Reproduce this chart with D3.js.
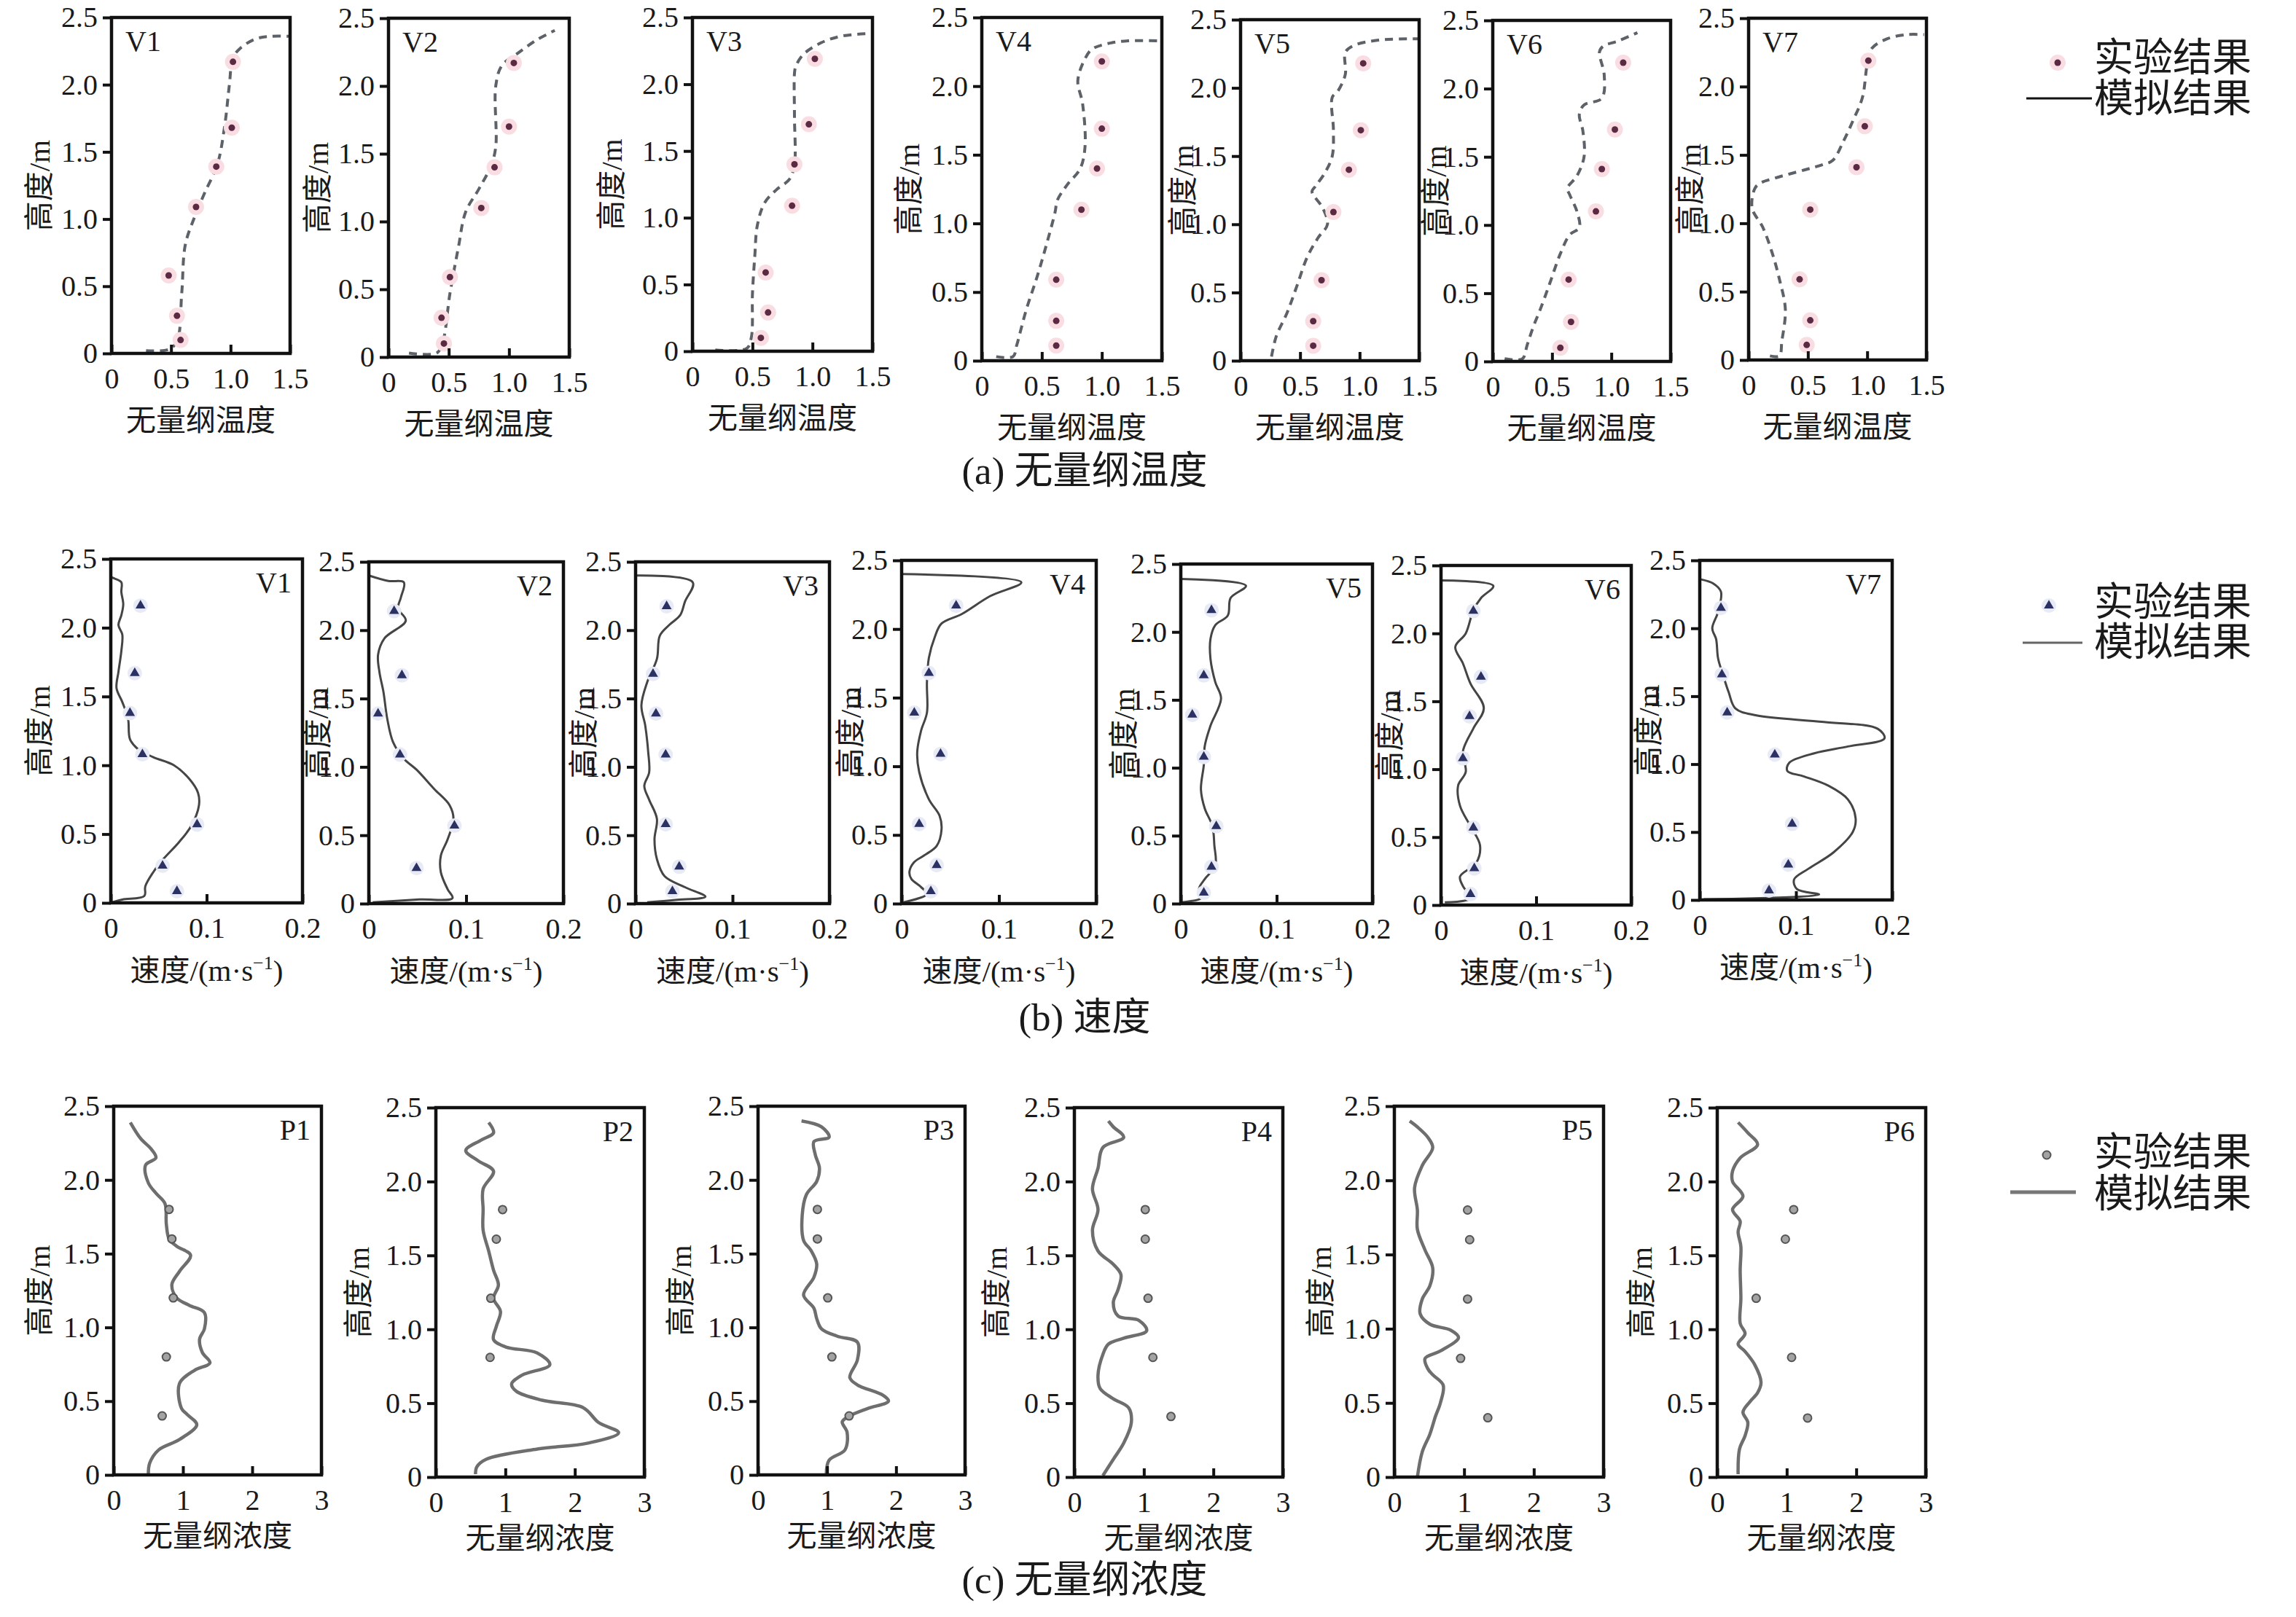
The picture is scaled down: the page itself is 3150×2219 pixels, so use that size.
<!DOCTYPE html>
<html>
<head>
<meta charset="utf-8">
<script src="https://cdn.jsdelivr.net/npm/d3@7"></script>
<style>
  body { margin: 0; background: #fff; }
  text { font-family: "Liberation Serif", "Noto Sans CJK SC", serif; fill: #1a1a1a; }
</style>
</head>
<body>
<div class="chart"></div>
<script>
// ---- data ----
var heightTicks = [0, 0.5, 1.0, 1.5, 2.0, 2.5];

// (a) dimensionless temperature
var tempNames = ["V1", "V2", "V3", "V4", "V5", "V6", "V7"];
var tempTicks = [0, 0.5, 1.0, 1.5];
var tempSim = [
  [[0.29,0.02],[0.48,0.03],[0.55,0.09],[0.59,0.45],[0.62,0.81],[0.70,1.02],[0.78,1.19],[0.89,1.41],[0.95,1.69],[0.99,2.0],[1.02,2.2],[1.08,2.27],[1.21,2.34],[1.34,2.36],[1.49,2.36]],
  [[0.17,0.03],[0.40,0.03],[0.45,0.11],[0.51,0.47],[0.58,0.81],[0.64,1.07],[0.75,1.24],[0.85,1.41],[0.89,1.55],[0.89,2.0],[0.94,2.15],[1.07,2.24],[1.23,2.34],[1.38,2.41]],
  [[0.19,0.01],[0.45,0.02],[0.49,0.10],[0.50,0.43],[0.52,0.72],[0.54,0.94],[0.60,1.11],[0.70,1.21],[0.81,1.29],[0.85,1.40],[0.85,1.76],[0.85,2.08],[0.86,2.13],[0.92,2.22],[1.07,2.31],[1.24,2.36],[1.47,2.38]],
  [[0.12,0.03],[0.26,0.03],[0.29,0.11],[0.37,0.37],[0.46,0.61],[0.54,0.85],[0.61,1.08],[0.63,1.17],[0.71,1.28],[0.82,1.40],[0.86,1.56],[0.84,1.87],[0.80,2.04],[0.86,2.20],[0.92,2.27],[1.05,2.31],[1.22,2.33],[1.48,2.33]],
  [[0.26,0.03],[0.30,0.18],[0.39,0.35],[0.47,0.54],[0.56,0.76],[0.65,0.90],[0.73,1.0],[0.69,1.12],[0.60,1.24],[0.63,1.28],[0.71,1.38],[0.77,1.50],[0.78,1.69],[0.77,1.93],[0.82,1.98],[0.88,2.10],[0.88,2.26],[0.95,2.31],[1.16,2.35],[1.49,2.36]],
  [[0.10,0.02],[0.25,0.02],[0.29,0.12],[0.34,0.25],[0.40,0.38],[0.48,0.57],[0.57,0.79],[0.65,0.93],[0.73,0.98],[0.71,1.10],[0.65,1.22],[0.63,1.27],[0.71,1.36],[0.77,1.50],[0.76,1.69],[0.73,1.81],[0.77,1.88],[0.92,1.93],[0.94,2.10],[0.90,2.27],[0.93,2.31],[1.06,2.35],[1.22,2.41]],
  [[0.18,0.03],[0.26,0.03],[0.28,0.135],[0.31,0.37],[0.26,0.59],[0.20,0.78],[0.12,0.97],[0.03,1.11],[0.05,1.25],[0.09,1.29],[0.22,1.33],[0.47,1.39],[0.63,1.43],[0.71,1.46],[0.80,1.60],[0.88,1.75],[0.96,1.92],[1.00,2.16],[1.04,2.28],[1.17,2.35],[1.33,2.38],[1.48,2.38]]
];
var tempExp = [
  [[1.02,2.17],[1.01,1.68],[0.88,1.39],[0.71,1.09],[0.48,0.58],[0.55,0.28],[0.58,0.10]],
  [[1.04,2.17],[1.00,1.70],[0.88,1.40],[0.77,1.10],[0.51,0.59],[0.44,0.29],[0.46,0.10]],
  [[1.02,2.19],[0.97,1.70],[0.85,1.40],[0.83,1.09],[0.61,0.59],[0.63,0.29],[0.57,0.10]],
  [[1.00,2.18],[1.00,1.69],[0.96,1.40],[0.83,1.10],[0.62,0.59],[0.62,0.29],[0.62,0.11]],
  [[1.03,2.18],[1.01,1.69],[0.91,1.40],[0.78,1.09],[0.68,0.59],[0.61,0.29],[0.61,0.11]],
  [[1.10,2.19],[1.03,1.70],[0.92,1.41],[0.87,1.10],[0.64,0.60],[0.66,0.29],[0.57,0.10]],
  [[1.01,2.19],[0.98,1.71],[0.91,1.41],[0.52,1.10],[0.43,0.59],[0.52,0.29],[0.49,0.11]]
];

// (b) velocity
var velNames = ["V1", "V2", "V3", "V4", "V5", "V6", "V7"];
var velTicks = [0, 0.1, 0.2];
var velSim = [
  [[0,0],[0.012,0.024],[0.035,0.05],[0.036,0.12],[0.044,0.22],[0.055,0.32],[0.071,0.44],[0.084,0.56],[0.092,0.71],[0.091,0.80],[0.082,0.90],[0.066,1.0],[0.044,1.06],[0.028,1.12],[0.020,1.19],[0.018,1.34],[0.012,1.46],[0.006,1.56],[0.008,1.68],[0.011,1.83],[0.012,1.95],[0.008,2.02],[0.011,2.09],[0.013,2.17],[0.011,2.26],[0.011,2.33],[0.003,2.36],[0,2.37]],
  [[0.004,0.01],[0.052,0.03],[0.086,0.04],[0.081,0.105],[0.074,0.23],[0.074,0.35],[0.081,0.47],[0.087,0.62],[0.083,0.72],[0.067,0.84],[0.049,0.98],[0.036,1.06],[0.025,1.18],[0.019,1.35],[0.015,1.55],[0.011,1.69],[0.0095,1.82],[0.016,1.94],[0.038,2.07],[0.030,2.16],[0.033,2.24],[0.036,2.35],[0.020,2.36],[0,2.40]],
  [[0.012,0.01],[0.041,0.027],[0.072,0.05],[0.051,0.12],[0.030,0.20],[0.022,0.325],[0.0195,0.47],[0.022,0.62],[0.014,0.76],[0.009,0.86],[0.014,0.96],[0.013,1.11],[0.010,1.30],[0.006,1.45],[0.012,1.62],[0.022,1.79],[0.025,1.96],[0.035,2.04],[0.046,2.11],[0.051,2.21],[0.059,2.35],[0.001,2.40]],
  [[0.002,0.01],[0.026,0.07],[0.020,0.12],[0.010,0.18],[0.008,0.23],[0.0126,0.30],[0.023,0.35],[0.036,0.42],[0.041,0.54],[0.039,0.64],[0.028,0.76],[0.018,0.96],[0.016,1.10],[0.020,1.26],[0.026,1.39],[0.026,1.61],[0.028,1.79],[0.034,1.94],[0.041,2.04],[0.062,2.11],[0.091,2.24],[0.123,2.34],[0,2.40]],
  [[0.001,0.01],[0.022,0.045],[0.019,0.11],[0.025,0.18],[0.036,0.28],[0.035,0.43],[0.033,0.57],[0.025,0.70],[0.021,0.84],[0.024,1.02],[0.025,1.16],[0.031,1.31],[0.042,1.51],[0.036,1.63],[0.031,1.80],[0.031,1.95],[0.036,2.05],[0.049,2.12],[0.052,2.25],[0.068,2.34],[0.001,2.39]],
  [[0.004,0.02],[0.031,0.05],[0.023,0.14],[0.020,0.21],[0.037,0.31],[0.041,0.44],[0.031,0.58],[0.020,0.73],[0.018,0.88],[0.026,0.98],[0.023,1.13],[0.034,1.30],[0.045,1.45],[0.031,1.63],[0.023,1.78],[0.015,1.90],[0.026,2.00],[0.034,2.17],[0.042,2.26],[0.055,2.35],[0,2.39]],
  [[0.004,0.005],[0.124,0.04],[0.101,0.08],[0.098,0.15],[0.113,0.23],[0.139,0.35],[0.159,0.50],[0.162,0.60],[0.154,0.74],[0.134,0.84],[0.108,0.91],[0.091,0.95],[0.093,1.01],[0.119,1.08],[0.154,1.13],[0.192,1.19],[0.185,1.26],[0.129,1.31],[0.058,1.36],[0.037,1.41],[0.030,1.53],[0.024,1.66],[0.019,1.78],[0.017,1.92],[0.013,2.0],[0.019,2.12],[0.022,2.27],[0.014,2.33],[0.0015,2.36]]
];
var velExp = [
  [[0.031,2.16],[0.025,1.67],[0.020,1.38],[0.033,1.08],[0.090,0.57],[0.054,0.27],[0.069,0.085]],
  [[0.026,2.14],[0.034,1.67],[0.0095,1.39],[0.032,1.09],[0.088,0.57],[0.049,0.26]],
  [[0.032,2.175],[0.018,1.68],[0.021,1.39],[0.031,1.09],[0.031,0.58],[0.045,0.27],[0.038,0.09]],
  [[0.056,2.17],[0.028,1.68],[0.013,1.39],[0.040,1.09],[0.018,0.58],[0.036,0.28],[0.030,0.09]],
  [[0.032,2.16],[0.024,1.68],[0.012,1.39],[0.024,1.08],[0.037,0.57],[0.032,0.27],[0.024,0.08]],
  [[0.034,2.165],[0.042,1.68],[0.030,1.39],[0.023,1.08],[0.034,0.57],[0.035,0.27],[0.031,0.08]],
  [[0.022,2.15],[0.023,1.66],[0.0285,1.38],[0.078,1.07],[0.096,0.56],[0.092,0.26],[0.072,0.07]]
];

// (c) dimensionless concentration
var concNames = ["P1", "P2", "P3", "P4", "P5", "P6"];
var concTicks = [0, 1, 2, 3];
var concSim = [
  [[0.50,0.0],[0.52,0.08],[0.65,0.17],[0.95,0.24],[1.20,0.34],[1.06,0.41],[0.98,0.45],[0.95,0.62],[1.17,0.71],[1.39,0.76],[1.28,0.83],[1.24,0.92],[1.31,0.99],[1.31,1.10],[1.09,1.15],[0.91,1.20],[0.84,1.29],[0.95,1.38],[1.11,1.49],[0.91,1.55],[0.80,1.60],[0.76,1.70],[0.74,1.84],[0.61,1.91],[0.50,1.98],[0.46,2.10],[0.61,2.15],[0.54,2.21],[0.39,2.28],[0.24,2.39]],
  [[0.57,0.02],[0.59,0.07],[0.72,0.12],[1.46,0.19],[2.19,0.23],[2.63,0.30],[2.34,0.37],[2.12,0.47],[1.53,0.52],[1.16,0.58],[1.09,0.63],[1.24,0.69],[1.64,0.76],[1.46,0.84],[1.01,0.88],[0.83,0.93],[0.87,1.02],[0.93,1.12],[0.83,1.21],[0.90,1.30],[0.83,1.40],[0.76,1.53],[0.68,1.67],[0.68,1.81],[0.68,1.95],[0.83,2.07],[0.61,2.14],[0.43,2.21],[0.65,2.28],[0.83,2.33],[0.76,2.40]],
  [[0.99,0.01],[1.03,0.10],[1.26,0.17],[1.29,0.29],[1.22,0.36],[1.33,0.40],[1.59,0.45],[1.89,0.50],[1.81,0.54],[1.44,0.61],[1.33,0.66],[1.44,0.78],[1.44,0.90],[1.15,0.94],[0.92,0.99],[0.85,1.06],[0.81,1.13],[0.66,1.22],[0.81,1.34],[0.85,1.43],[0.77,1.52],[0.66,1.59],[0.64,1.76],[0.70,1.90],[0.85,1.99],[0.89,2.08],[0.83,2.17],[0.81,2.26],[1.03,2.29],[0.92,2.36],[0.63,2.40]],
  [[0.41,0.01],[0.56,0.12],[0.71,0.23],[0.82,0.37],[0.78,0.47],[0.56,0.53],[0.37,0.60],[0.34,0.69],[0.41,0.83],[0.49,0.90],[0.71,0.94],[1.04,0.99],[0.93,1.06],[0.63,1.09],[0.56,1.18],[0.63,1.27],[0.67,1.37],[0.56,1.44],[0.34,1.53],[0.26,1.67],[0.34,1.81],[0.26,1.95],[0.34,2.09],[0.41,2.23],[0.71,2.30],[0.56,2.37],[0.49,2.41]],
  [[0.33,0.0],[0.40,0.17],[0.51,0.29],[0.59,0.41],[0.66,0.50],[0.70,0.62],[0.55,0.69],[0.48,0.73],[0.44,0.80],[0.66,0.85],[0.92,0.94],[0.81,0.99],[0.51,1.03],[0.37,1.10],[0.40,1.20],[0.51,1.29],[0.55,1.41],[0.44,1.53],[0.33,1.67],[0.33,1.80],[0.29,1.95],[0.40,2.10],[0.55,2.22],[0.48,2.29],[0.33,2.36],[0.22,2.40]],
  [[0.30,0.02],[0.32,0.19],[0.40,0.28],[0.44,0.37],[0.37,0.44],[0.47,0.51],[0.58,0.57],[0.63,0.64],[0.54,0.76],[0.40,0.85],[0.30,0.90],[0.40,0.97],[0.33,1.04],[0.34,1.21],[0.33,1.40],[0.34,1.56],[0.30,1.66],[0.33,1.73],[0.22,1.81],[0.37,1.90],[0.22,2.0],[0.22,2.07],[0.33,2.16],[0.58,2.25],[0.44,2.33],[0.30,2.40]]
];
var concExp = [
  [[0.80,1.80],[0.84,1.60],[0.86,1.20],[0.76,0.80],[0.70,0.40]],
  [[0.96,1.81],[0.87,1.61],[0.79,1.21],[0.78,0.81]],
  [[0.86,1.80],[0.86,1.60],[1.01,1.20],[1.07,0.80],[1.32,0.40]],
  [[1.02,1.81],[1.02,1.61],[1.06,1.21],[1.13,0.81],[1.39,0.41]],
  [[1.05,1.80],[1.08,1.60],[1.05,1.20],[0.95,0.80],[1.34,0.40]],
  [[1.10,1.81],[0.98,1.61],[0.56,1.21],[1.07,0.81],[1.30,0.40]]
];

var legendLabels = ["实验结果", "模拟结果"];

// ---- layout: [left, top, right, bottom, y-title offset] ----
var boxesA = [[153,24,398,485,100],[533,25,781,490,98],[950,24,1197,482,112],[1347,24,1594,495,101],[1702,27,1947,495,80],[2048,28,2292,496,79],[2399,25,2643,494,81]];
var boxesB = [[152,767,415,1239,99],[506,771,773,1240,71],[872,771,1138,1240,72],[1237,769,1504,1240,71],[1620,774,1883,1240,79],[1977,776,2238,1242,71],[2332,769,2596,1235,71]];
var boxesC = [[156,1518,441,2024,103],[598,1520,884,2027,107],[1040,1518,1324,2024,107],[1474,1520,1760,2027,108],[1913,1518,2200,2027,102],[2356,1520,2642,2027,105]];

var W = 3150, H = 2219;
var svg = d3.select("div.chart").append("svg")
            .attr("width", W).attr("height", H)
            .attr("viewBox", `0 0 ${W} ${H}`);
svg.append("rect").attr("width", W).attr("height", H).attr("fill", "#fff");

var fmtH = d => d === 0 ? "0" : d3.format(".1f")(d);

// marker painters
function markTemp(g, cx, cy){
  g.append("circle").attr("cx", cx).attr("cy", cy).attr("r", 11).attr("fill", "#f9dde3");
  g.append("circle").attr("cx", cx).attr("cy", cy).attr("r", 4.5).attr("fill", "#5b2a42");
}
function markVel(g, cx, cy){
  g.append("circle").attr("cx", cx).attr("cy", cy).attr("r", 10).attr("fill", "#e8ebf6");
  g.append("path").attr("d", d3.symbol().type(d3.symbolTriangle).size(80)())
    .attr("transform", `translate(${cx},${cy})`).attr("fill", "#2b3163");
}
function markConc(g, cx, cy){
  g.append("circle").attr("cx", cx).attr("cy", cy).attr("r", 5.5)
    .attr("fill", "#a3a3a3").attr("stroke", "#555").attr("stroke-width", 2);
}

function drawPanel(box, xMax, xTicks, xFmt, sim, exp, name, opts){
  var left = box[0], top = box[1], right = box[2], bottom = box[3];
  var x = d3.scaleLinear().domain([0, xMax]).range([left, right]);
  var y = d3.scaleLinear().domain([0, 2.5]).range([bottom, top]);
  var g = svg.append("g");

  //simulated profile
  var line = d3.line()
               .x(d => x(d[0]))
               .y(d => y(d[1]))
               .curve(d3.curveCatmullRom.alpha(0.5));
  g.append("path")
    .datum(sim)
    .attr("d", line)
    .attr("fill", "none")
    .attr("stroke", opts.lineColor)
    .attr("stroke-width", opts.lineWidth)
    .attr("stroke-dasharray", opts.dash || null)
    .attr("stroke-linejoin", "round");

  //experimental points
  exp.forEach(function(d){ opts.marker(g, x(d[0]), y(d[1])); });

  //frame
  g.append("rect")
    .attr("x", left).attr("y", top)
    .attr("width", right - left).attr("height", bottom - top)
    .attr("fill", "none").attr("stroke", "#111").attr("stroke-width", 4.5);

  //axes
  var ax = g.append("g").attr("transform", `translate(0,${bottom})`)
            .call(d3.axisBottom(x).tickValues(xTicks).tickFormat(xFmt).tickSize(-12).tickPadding(20));
  var ay = g.append("g").attr("transform", `translate(${left},0)`)
            .call(d3.axisLeft(y).tickValues(heightTicks).tickFormat(fmtH).tickSize(12).tickPadding(7));
  [ax, ay].forEach(function(a){
    a.select(".domain").remove();
    a.attr("font-family", null).attr("font-size", null);
    a.selectAll("line").attr("stroke", "#111").attr("stroke-width", 4);
    a.selectAll("text").attr("font-size", 40).attr("fill", "#1a1a1a");
  });

  //axis titles
  var xt = g.append("text")
    .attr("x", (left + right) / 2).attr("y", bottom + opts.titleDy)
    .attr("text-anchor", "middle").attr("font-size", 41);
  if(opts.unit){
    xt.append("tspan").text("速度/(m·s");
    xt.append("tspan").text("−1").attr("font-size", 26).attr("dy", -16);
    xt.append("tspan").text(")").attr("dy", 16);
  } else {
    xt.text(opts.xTitle);
  }
  var cy = (top + bottom) / 2, tx = left - box[4];
  g.append("text")
    .attr("transform", `translate(${tx},${cy}) rotate(-90)`)
    .attr("text-anchor", "middle").attr("dy", "0.36em")
    .attr("font-size", 41).text("高度/m");

  //panel name
  if(opts.nameLeft){
    g.append("text").attr("x", left + 19).attr("y", top + 46)
      .attr("font-size", 40).text(name);
  } else {
    g.append("text").attr("x", right - 15).attr("y", top + 46)
      .attr("text-anchor", "end").attr("font-size", 40).text(name);
  }
}

var styleA = {lineColor: "#5d6168", lineWidth: 4, dash: "11 8", marker: markTemp, xTitle: "无量纲温度", titleDy: 106, nameLeft: true};
var styleB = {lineColor: "#454545", lineWidth: 3, marker: markVel, unit: true, titleDy: 107};
var styleC = {lineColor: "#6e6e6e", lineWidth: 4.5, marker: markConc, xTitle: "无量纲浓度", titleDy: 98};

tempNames.forEach(function(n, i){ drawPanel(boxesA[i], 1.5, tempTicks, fmtH, tempSim[i], tempExp[i], n, styleA); });
velNames.forEach(function(n, i){ drawPanel(boxesB[i], 0.2, velTicks, fmtH, velSim[i], velExp[i], n, styleB); });
concNames.forEach(function(n, i){ drawPanel(boxesC[i], 3, concTicks, d3.format("d"), concSim[i], concExp[i], n, styleC); });

//legends
function legend(mx, my, marker, lx1, lx2, ly, lcolor, lw, t1y, t2y){
  var g = svg.append("g");
  marker(g, mx, my);
  g.append("line").attr("x1", lx1).attr("x2", lx2).attr("y1", ly).attr("y2", ly)
    .attr("stroke", lcolor).attr("stroke-width", lw);
  g.append("text").attr("x", 2873).attr("y", t1y).attr("font-size", 54).text(legendLabels[0]);
  g.append("text").attr("x", 2873).attr("y", t2y).attr("font-size", 54).text(legendLabels[1]);
}
legend(2823, 86, markTemp, 2780, 2870, 135, "#111", 3, 98, 154);
legend(2811, 831, markVel, 2775, 2857, 882, "#666", 3, 845, 900);
legend(2808, 1585, markConc, 2758, 2848, 1636, "#777", 5, 1600, 1657);

//captions
var captions = ["(a) 无量纲温度", "(b) 速度", "(c) 无量纲浓度"];
var captionY = [664, 1414, 2186];
captions.forEach(function(c, i){
  svg.append("text").attr("x", 1488).attr("y", captionY[i])
     .attr("text-anchor", "middle").attr("font-size", 53).text(c);
});
</script>
</body>
</html>
